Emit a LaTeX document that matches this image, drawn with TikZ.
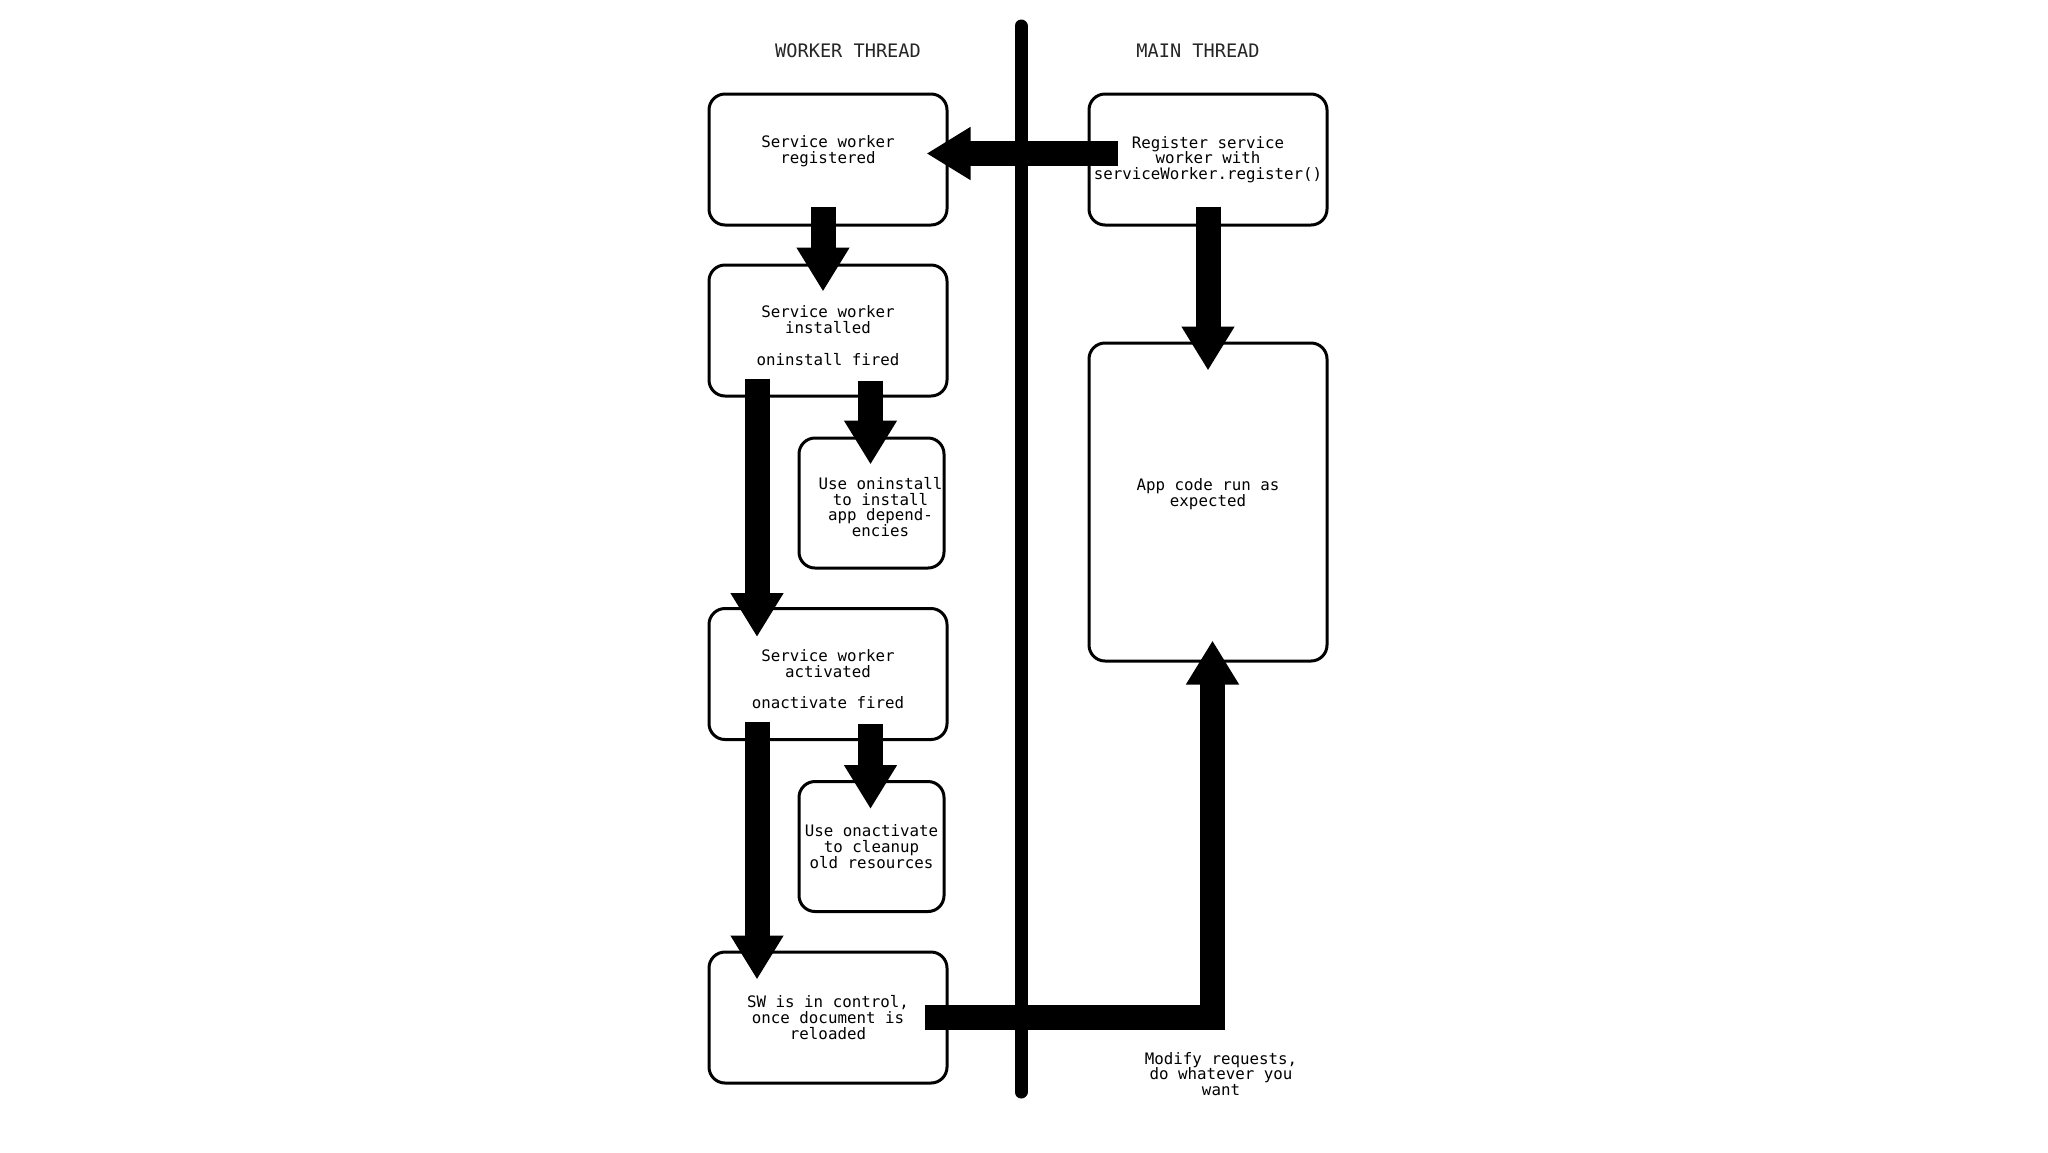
\documentclass[tikz,border=0pt]{standalone}
\usepackage{fontspec}
\newfontfamily\mono{DejaVu Sans Mono}
\usetikzlibrary{arrows.meta,calc}
\begin{document}
\begin{tikzpicture}[x=0.5pt,y=-0.5pt,
  box/.style={draw=black, line width=1.5pt, rounded corners=8pt, inner sep=0pt,
    align=center, font=\mono\fontsize{7.9pt}{7.9pt}\selectfont, text=black},
  bigbox/.style={box, minimum width=119pt, minimum height=65.5pt},
  smallbox/.style={box, minimum width=72.5pt, minimum height=65pt},
  blk/.style={line width=12.5pt, line join=miter, -{Triangle[width=25pt,length=22pt]}},
  head/.style={font=\mono\fontsize{9.3pt}{9.3pt}\selectfont, text=black!85, inner sep=0pt},
  note/.style={font=\mono\fontsize{7.9pt}{7.9pt}\selectfont, align=center, inner sep=0pt}]
\useasboundingbox[fill=white] (0,0) rectangle (2048,1152);

% headers
\node[head] (hw) at (848,51) {WORKER THREAD};
\node[head] (hm) at (1198,51) {MAIN THREAD};

% divider
\coordinate (dtop) at (1021,26);
\coordinate (dbot) at (1021,1092);
\draw[line width=6.5pt, line cap=round] (dtop) -- (dbot);

% boxes
\node[bigbox] (b1) at (828,159.5) {Service worker\\registered\\[2pt]};
\node[bigbox] (b2) at (1208,159.5) {Register service\\worker with\\serviceWorker.register()};
\node[bigbox] (b3) at (828,330.5) {\rule{0pt}{11pt}Service worker\\installed\\[7.9pt]oninstall fired};
\node[smallbox] (b4) at (871.5,503) {\rule{0pt}{10pt}\hspace*{9pt}Use oninstall\\\hspace*{9pt}to install\\\hspace*{9pt}app depend-\\\hspace*{9pt}encies};
\node[bigbox] (b5) at (828,674) {\rule{0pt}{11pt}Service worker\\activated\\[7.9pt]onactivate fired};
\node[smallbox] (b6) at (871.5,846.5) {Use onactivate\\to cleanup\\old resources};
\node[bigbox] (b7) at (828,1017.5) {SW is in control,\\once document is\\reloaded};
\node[box, minimum width=119pt, minimum height=159pt] (b8) at (1208,502) {App code run as\\expected\\[2pt]};

\node[note] (mod) at (1221,1074) {Modify requests,\\do whatever you\\want};

% arrows
\draw[blk] ($(b2.west)+(30,-6)$) -- ($(b1.east)+(-22,-6)$);
\draw[blk] ($(b1.south)+(-5,-20)$) -- ($(b3.north)+(-5,28)$);
\draw[blk] ($(b2.south)+(0,-20)$) -- ($(b8.north)+(0,29)$);
\draw[blk] ($(b3.south)+(-71,-19)$) -- ($(b5.north)+(-71,30)$);
\draw[blk] ($(b4.north |- b3.south)+(-1,-17)$) -- ($(b4.north)+(-1,28)$);
\draw[blk] ($(b5.south)+(-71,-19)$) -- ($(b7.north)+(-71,29)$);
\draw[blk] ($(b6.north |- b5.south)+(-1,-17)$) -- ($(b6.north)+(-1,29)$);
\draw[blk] ($(b7.east)+(-24,0)$) -| ($(b8.south)+(4.5,-22)$);
\end{tikzpicture}
\end{document}
